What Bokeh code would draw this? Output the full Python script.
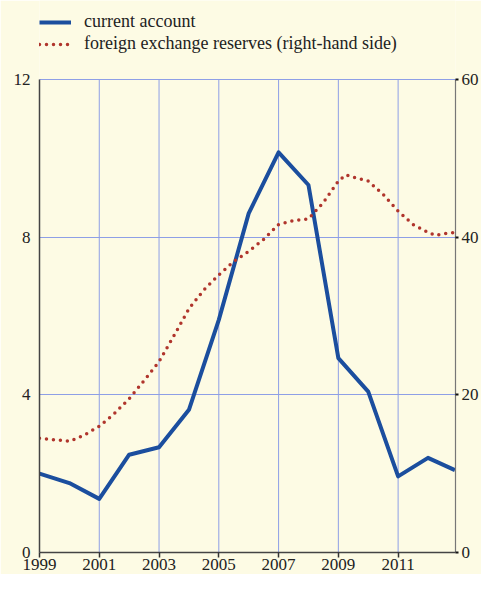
from bokeh.plotting import figure
from bokeh.models import Range1d, LinearAxis, FixedTicker, Legend, LegendItem
from bokeh.embed import file_html
from bokeh.resources import INLINE

# current account (left axis)
ca_years = [1999, 2000, 2001, 2002, 2003, 2004, 2005, 2006, 2007, 2008, 2009, 2010, 2011, 2012, 2012.9]
ca_values = [2.0, 1.76, 1.36, 2.48, 2.67, 3.62, 5.9, 8.6, 10.15, 9.32, 4.93, 4.08, 1.93, 2.4, 2.09]

# foreign exchange reserves (right-hand side)
fx_years = [1999, 1999.5, 2000, 2000.5, 2001, 2001.5, 2002, 2002.5, 2003, 2003.5, 2004, 2004.5,
            2005, 2005.5, 2006, 2006.5, 2007, 2007.5, 2008, 2008.5, 2009, 2009.25, 2009.5, 2010,
            2010.5, 2011, 2011.5, 2012, 2012.25, 2012.5, 2012.9]
fx_values = [14.5, 14.3, 14.1, 14.9, 16.0, 17.6, 19.5, 21.8, 24.2, 27.5, 30.9, 33.3,
             35.2, 36.9, 38.2, 39.7, 41.6, 42.1, 42.3, 44.4, 47.1, 47.9, 47.6, 47.1,
             45.4, 43.3, 41.6, 40.6, 40.2, 40.4, 40.6]

left_ticks = [0, 4, 8, 12]
right_ticks = [0, 20, 40, 60]
x_ticks = [1999, 2001, 2003, 2005, 2007, 2009, 2011]

BG = "#FDFBE4"
GRID = "#8E9FE6"
BLUE = "#1B4E9E"
RED = "#B0352C"
FONT = "Liberation Serif"

# the frame reaches the top of the picture so that the legend sits inside it
p = figure(width=481, height=574, output_backend="svg", toolbar_location=None,
           x_range=Range1d(1999, 2012.92), y_range=Range1d(0, 14.0),
           background_fill_color=BG, border_fill_color=BG,
           min_border_left=39, min_border_right=23, min_border_top=0, min_border_bottom=22)
p.outline_line_color = None
p.extra_y_ranges = {"fx": Range1d(0, 70.0)}

# vertical grid lines, limited to the data area
p.segment(x0=x_ticks, y0=[left_ticks[0]] * len(x_ticks), x1=x_ticks, y1=[left_ticks[-1]] * len(x_ticks),
          line_color=GRID, line_width=1)

ca = p.line(ca_years, ca_values, line_color=BLUE, line_width=4, line_join="round")
fx = p.line(fx_years, fx_values, y_range_name="fx", line_color=RED, line_width=3.5,
            line_dash="0 7", line_cap="round")

# axes
p.xaxis.ticker = FixedTicker(ticks=x_ticks)
p.yaxis.ticker = FixedTicker(ticks=left_ticks)
p.yaxis.bounds = (left_ticks[0], left_ticks[-1])
p.xaxis.minor_tick_line_color = None
p.yaxis.minor_tick_line_color = None
p.xaxis.major_tick_out = 5
p.xaxis.major_tick_in = 0
p.xaxis.major_tick_line_color = "#333333"
p.xaxis.major_tick_line_width = 1.5
p.xaxis.axis_line_color = "#444444"
p.xaxis.axis_line_width = 1.5
p.xaxis.major_label_standoff = 1
p.yaxis.major_tick_out = 0
p.yaxis.major_tick_in = 0
p.yaxis.axis_line_color = "#444444"
p.yaxis.axis_line_width = 1.5
p.yaxis.major_label_standoff = 9

ry = LinearAxis(y_range_name="fx", ticker=FixedTicker(ticks=right_ticks),
                bounds=(right_ticks[0], right_ticks[-1]))
ry.minor_tick_line_color = None
ry.major_tick_out = 3
ry.major_tick_in = 0
ry.major_tick_line_color = "#111111"
ry.major_tick_line_width = 2
ry.axis_line_color = "#777777"
ry.axis_line_width = 1.2
ry.major_label_standoff = 3
p.add_layout(ry, "right")

for ax in [p.xaxis[0], p.yaxis[0], ry]:
    ax.major_label_text_font = FONT
    ax.major_label_text_font_size = "17px"
    ax.major_label_text_color = "#222222"

p.xgrid.visible = False
p.ygrid.ticker = FixedTicker(ticks=left_ticks)
p.ygrid.grid_line_color = GRID
p.ygrid.grid_line_width = 1

legend = Legend(items=[LegendItem(label="current account", renderers=[ca]),
                       LegendItem(label="foreign exchange reserves (right-hand side)", renderers=[fx])],
                location=(0, 498), orientation="vertical",
                background_fill_alpha=0, border_line_color=None,
                label_text_font=FONT, label_text_font_size="18px", label_text_color="#222222",
                glyph_width=32, glyph_height=20, label_height=20, label_standoff=13,
                spacing=1, padding=0, margin=0)
p.add_layout(legend)

open("out.html", "w").write(file_html(p, INLINE))
